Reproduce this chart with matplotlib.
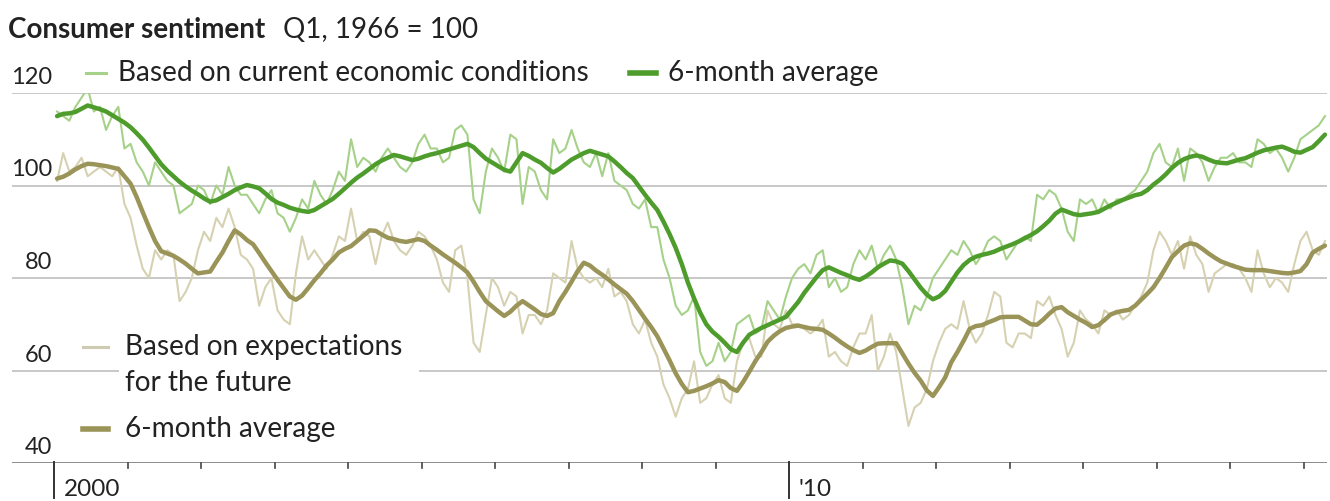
import matplotlib
matplotlib.use("Agg")
import matplotlib.pyplot as plt
import matplotlib.transforms as mtransforms
import numpy as np

plt.rcParams['font.family'] = ['Lato', 'DejaVu Sans']

# Monthly index values, Jan 2000 - Apr 2017 (Q1 1966 = 100)
start_year = 2000
current_raw = [
    116, 115, 114, 117, 119, 121, 116, 117, 112, 115, 117, 108,   # 2000
    109, 105, 103, 100, 105, 103, 101, 100, 94, 95, 96, 100,      # 2001
    99, 96, 100, 98, 104, 100, 98, 98, 96, 94, 97, 99,            # 2002
    94, 93, 90, 93, 97, 95, 101, 98, 96, 99, 103, 101,            # 2003
    110, 104, 106, 105, 103, 106, 108, 106, 104, 103, 105, 109,   # 2004
    111, 108, 108, 105, 106, 112, 113, 111, 97, 94, 103, 108,     # 2005
    106, 103, 111, 110, 96, 104, 103, 99, 97, 110, 107, 108,      # 2006
    112, 108, 105, 104, 107, 102, 107, 101, 100, 99, 96, 95,      # 2007
    97, 91, 91, 84, 80, 74, 72, 73, 76, 64, 61, 62,               # 2008
    66, 62, 64, 70, 71, 72, 68, 69, 75, 73, 71, 76,               # 2009
    80, 82, 83, 81, 85, 86, 78, 80, 77, 78, 83, 86,               # 2010
    84, 87, 82, 85, 87, 84, 78, 70, 74, 73, 76, 80,               # 2011
    82, 84, 86, 85, 88, 86, 83, 85, 88, 89, 88, 84,               # 2012
    86, 88, 89, 88, 98, 97, 99, 98, 95, 90, 88, 97,               # 2013
    96, 97, 94, 97, 95, 97, 97, 98, 99, 101, 103, 107,            # 2014
    109, 105, 104, 108, 101, 108, 107, 105, 101, 104, 106, 106,   # 2015
    107, 105, 105, 104, 110, 109, 107, 108, 106, 103, 106, 110,   # 2016
    111, 112, 113, 115,                                           # 2017
]
current_avg = [
    115.0, 115.5, 115.6, 115.9, 116.6, 117.3, 116.9, 116.5, 116.0, 115.2, 114.4, 113.6,
    112.6, 111.3, 109.9, 108.2, 106.4, 104.6, 103.2, 102.0, 100.8, 99.8, 98.9, 98.1,
    97.2, 96.5, 96.8, 97.5, 98.2, 99.0, 99.6, 100.1, 99.8, 99.4, 98.3, 97.1,
    96.3, 95.8, 95.2, 94.8, 94.5, 94.3, 94.7, 95.5, 96.3, 97.1, 98.2, 99.4,
    100.6, 101.7, 102.6, 103.6, 104.6, 105.4, 106.0, 106.6, 106.3, 105.9, 105.5, 105.8,
    106.3, 106.7, 107.0, 107.4, 107.8, 108.2, 108.6, 109.0, 108.3, 107.0, 105.8, 105.0,
    104.2, 103.4, 103.0, 105.0, 107.0, 106.4, 105.6, 104.9, 103.8, 102.8, 103.6, 104.6,
    105.6, 106.3, 107.0, 107.5, 107.1, 106.7, 106.3, 105.2, 104.0, 102.7, 101.6, 99.8,
    98.0, 96.3, 94.7, 92.2, 89.5, 86.5, 83.0, 79.0, 75.6, 72.5, 70.0, 68.4,
    67.3, 66.0, 64.6, 64.0, 66.0, 67.7, 68.5, 69.2, 69.8, 70.4, 71.0, 71.6,
    73.2, 74.8, 76.8, 78.5, 80.2, 81.7, 82.3, 81.7, 81.1, 80.6, 80.0, 79.6,
    80.3, 81.2, 82.3, 83.1, 83.8, 83.6, 83.1, 81.5, 79.7, 77.9, 76.4, 75.4,
    76.0, 77.2, 79.2, 81.2, 82.8, 83.9, 84.6, 85.0, 85.3, 85.7, 86.3, 86.8,
    87.3, 87.9, 88.6, 89.3, 90.1, 91.2, 92.4, 93.9, 94.8, 94.3, 93.8, 93.6,
    93.8, 94.0, 94.3, 95.0, 95.7, 96.3, 96.9, 97.4, 97.9, 98.2, 99.0, 100.2,
    101.2, 102.4, 103.8, 104.9, 105.7, 106.2, 106.5, 106.2, 105.6, 105.1, 104.9, 104.8,
    105.2, 105.6, 105.9, 106.5, 107.1, 107.6, 107.9, 108.2, 108.4, 107.9, 107.3, 107.1,
    107.7, 108.3, 109.6, 111.0,
]
expect_raw = [
    101, 107, 103, 104, 106, 102, 103, 104, 103, 102, 104, 96,    # 2000
    93, 87, 82, 80, 86, 84, 86, 85, 75, 77, 80, 86,               # 2001
    90, 88, 93, 91, 95, 91, 85, 84, 82, 74, 78, 80,               # 2002
    73, 71, 70, 81, 89, 84, 86, 84, 82, 85, 89, 88,               # 2003
    95, 88, 90, 89, 83, 89, 92, 88, 86, 85, 87, 90,               # 2004
    89, 87, 84, 79, 77, 86, 87, 80, 66, 64, 72, 80,               # 2005
    78, 74, 77, 76, 68, 72, 72, 70, 73, 81, 80, 79,               # 2006
    88, 82, 80, 79, 80, 78, 82, 76, 77, 75, 70, 68,               # 2007
    71, 66, 63, 57, 54, 50, 54, 56, 62, 53, 54, 57,               # 2008
    59, 54, 53, 62, 66, 67, 63, 63, 73, 70, 69, 73,               # 2009
    70, 70, 69, 68, 69, 71, 63, 64, 62, 61, 65, 68,               # 2010
    68, 72, 60, 63, 68, 64, 56, 48, 52, 53, 56, 62,               # 2011
    66, 69, 70, 69, 75, 69, 66, 68, 72, 77, 76, 66,               # 2012
    65, 68, 68, 67, 75, 74, 76, 72, 69, 63, 66, 73,               # 2013
    71, 70, 68, 73, 72, 73, 71, 72, 74, 76, 79, 86,               # 2014
    90, 88, 85, 88, 82, 89, 85, 83, 77, 81, 82, 83,               # 2015
    83, 82, 80, 77, 86, 81, 78, 80, 79, 77, 83, 88,               # 2016
    90, 86, 85, 88,                                               # 2017
]
expect_avg = [
    101.5, 101.9, 102.6, 103.5, 104.2, 104.7, 104.6, 104.4, 104.2, 103.9, 103.6, 102.0,
    100.4, 97.5, 94.2, 91.0, 88.0, 85.8, 85.3, 84.8, 84.0, 83.1, 82.0, 81.0,
    81.2, 81.4, 83.5, 85.5, 88.0, 90.3, 89.4, 88.2, 87.3, 85.4, 83.4, 81.5,
    79.6, 77.8, 76.0, 75.3, 76.2, 77.8, 79.5, 81.0, 82.7, 84.0, 85.5, 86.3,
    86.9, 88.0, 89.1, 90.3, 90.2, 89.4, 88.7, 88.4, 88.0, 87.8, 88.1, 88.4,
    88.0, 87.0, 86.1, 85.1, 84.2, 83.3, 82.3, 81.2, 79.2, 77.0, 75.0, 73.9,
    72.8, 71.8, 72.7, 74.0, 75.0, 74.1, 73.2, 72.2, 71.8, 72.4, 75.0, 77.0,
    79.2, 81.5, 83.3, 82.7, 81.6, 80.7, 79.7, 78.6, 77.6, 76.6, 75.0, 73.1,
    71.2, 69.4, 67.4, 64.8, 62.2, 59.4, 57.1, 55.3, 55.6, 56.1, 56.6, 57.2,
    57.9, 57.5, 56.2, 55.6, 57.5, 59.7, 62.0, 64.0, 66.2, 67.5, 68.5, 69.2,
    69.5, 69.7, 69.4, 69.1, 69.0, 68.8, 68.0, 67.1, 66.1, 65.2, 64.4, 63.8,
    64.3, 65.1, 65.8, 65.9, 65.9, 65.9, 63.7, 61.5, 59.5, 57.8, 55.7, 54.5,
    56.4, 58.5, 61.8, 64.0, 66.4, 69.0, 69.6, 69.8, 70.4, 70.9, 71.5, 71.6,
    71.6, 71.6, 70.8, 70.0, 69.9, 71.0, 72.3, 73.4, 73.7, 72.6, 71.8, 71.0,
    70.3, 69.4, 69.8, 70.9, 72.1, 72.6, 72.9, 73.1, 74.0, 75.3, 76.6, 78.0,
    80.0, 82.2, 84.5, 85.8, 87.0, 87.5, 87.2, 86.3, 85.3, 84.4, 83.6, 83.1,
    82.6, 82.2, 81.8, 81.7, 81.7, 81.7, 81.5, 81.3, 81.1, 81.0, 81.2, 81.5,
    83.0, 85.5, 86.3, 87.0,
]
y_ticks = [40, 60, 80, 100, 120]
x_major = [2000, 2010]
x_major_labels = ["2000", "'10"]

# colours
C_CUR_RAW = "#a6d189"
C_CUR_AVG = "#4e9c2c"
C_EXP_RAW = "#d6d1b1"
C_EXP_AVG = "#9a9459"
C_GRID = "#c8c8c8"
C_TEXT = "#222222"

W, H = 1330, 501
PT = 72 / 100  # points per pixel at 100 dpi
fig = plt.figure(figsize=(W / 100, H / 100), dpi=100)
fig.patch.set_facecolor("white")

# plot area in pixels
left_px, right_px, top_px, bottom_px = 12, 1327, 93, 463
ax = fig.add_axes([left_px / W, 1 - bottom_px / H,
                   (right_px - left_px) / W, (bottom_px - top_px) / H])
px_per_year = 73.5
x0_px = 54
ax.set_xlim(2000 + (left_px - x0_px) / px_per_year,
            2000 + (right_px - x0_px) / px_per_year)
ax.set_ylim(40, 120)
ax.axis("off")

n = len(current_raw)
x = start_year + (np.arange(n) + 0.5) / 12.0

# gridlines (the 60 line is broken where the lower legend sits)
def frac(px):
    return (px - left_px) / (right_px - left_px)

for v in [80, 100, 120]:
    ax.axhline(v, color=C_GRID, lw=1.4, zorder=0)
ax.axhline(60, xmin=0, xmax=frac(118), color=C_GRID, lw=1.4, zorder=0)
ax.axhline(60, xmin=frac(420), xmax=1, color=C_GRID, lw=1.4, zorder=0)
ax.axhline(40, color="#8c8c8c", lw=1.4, zorder=0)

# series
ax.plot(x, expect_raw, color=C_EXP_RAW, lw=1.5, zorder=2, solid_joinstyle="round")
ax.plot(x, current_raw, color=C_CUR_RAW, lw=1.5, zorder=3, solid_joinstyle="round")
ax.plot(x, expect_avg, color=C_EXP_AVG, lw=3.2, zorder=4,
        solid_joinstyle="round", solid_capstyle="round")
ax.plot(x, current_avg, color=C_CUR_AVG, lw=3.2, zorder=5,
        solid_joinstyle="round", solid_capstyle="round")

def fx(px):
    return px / W

def fy(py):
    return 1 - py / H

# x ticks
trans_tick = mtransforms.blended_transform_factory(ax.transData, fig.transFigure)
for yr in range(2001, 2018):
    if yr in x_major:
        continue
    ax.plot([yr, yr], [fy(463), fy(468)], color="#444444", lw=1.2,
            transform=trans_tick, clip_on=False)
for yr, lab in zip(x_major, x_major_labels):
    ax.plot([yr, yr], [fy(462), fy(498)], color="#333333", lw=1.4,
            transform=trans_tick, clip_on=False)
    ax.annotate(lab, xy=(yr, fy(496)), xycoords=trans_tick,
                xytext=(10 * PT, 0), textcoords="offset points",
                ha="left", va="baseline", fontsize=17.5, color=C_TEXT)

# y labels sit above their gridlines
trans_y = mtransforms.blended_transform_factory(fig.transFigure, ax.transData)
for v in y_ticks:
    ax.annotate(str(v), xy=(52 / W, v), xycoords=trans_y,
                xytext=(0, 9 * PT), textcoords="offset points",
                ha="right", va="baseline", fontsize=17, color=C_TEXT)

# title
fig.text(fx(8), fy(38), "Consumer sentiment", fontsize=20, fontweight="bold",
         ha="left", va="baseline", color=C_TEXT)
fig.text(fx(283), fy(38), "Q1, 1966 = 100", fontsize=20,
         ha="left", va="baseline", color=C_TEXT)

# legends
def key(x1, x2, y, color, lw):
    fig.add_artist(plt.Line2D([fx(x1), fx(x2)], [fy(y), fy(y)], color=color,
                              lw=lw, transform=fig.transFigure))

LEG_FS = 20.2
key(86, 106, 73, C_CUR_RAW, 2.2)
fig.text(fx(118), fy(81), "Based on current economic conditions", fontsize=LEG_FS,
         ha="left", va="baseline", color=C_TEXT)
key(630, 656, 73, C_CUR_AVG, 4.0)
fig.text(fx(668), fy(81), "6-month average", fontsize=LEG_FS,
         ha="left", va="baseline", color=C_TEXT)

key(83, 108, 347, "#cfcbb2", 2.2)
fig.text(fx(125), fy(355), "Based on expectations", fontsize=LEG_FS,
         ha="left", va="baseline", color=C_TEXT)
fig.text(fx(125), fy(391), "for the future", fontsize=LEG_FS,
         ha="left", va="baseline", color=C_TEXT)
key(83, 108, 429, C_EXP_AVG, 4.0)
fig.text(fx(125), fy(437), "6-month average", fontsize=LEG_FS,
         ha="left", va="baseline", color=C_TEXT)

fig.savefig("out.png", dpi=100, facecolor="white")
